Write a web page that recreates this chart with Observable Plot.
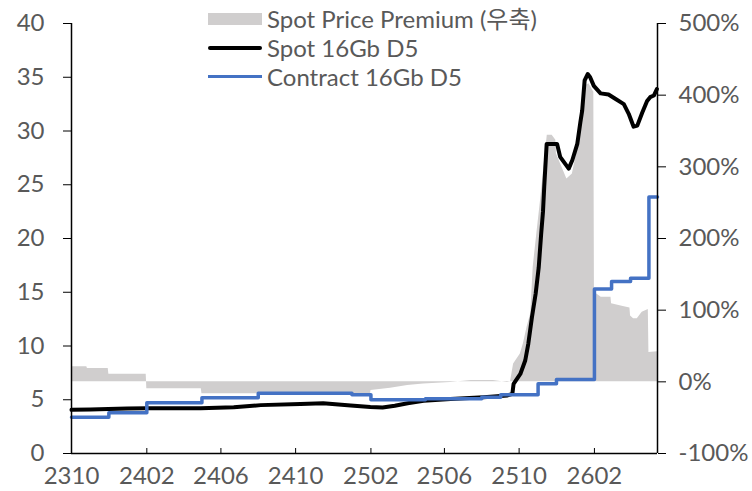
<!DOCTYPE html>
<html><head><meta charset="utf-8">
<script src="https://cdn.jsdelivr.net/npm/d3@7"></script>
<script src="https://cdn.jsdelivr.net/npm/@observablehq/plot@0.6"></script>
<style>
body{margin:0;background:#fff;}
#wrap{position:relative;width:752px;height:491px;font-family:Lato,"Noto Sans CJK KR",sans-serif;}
.legend{position:absolute;left:208px;top:4px;color:#595959;font-size:24px;line-height:1;}
.row{display:flex;align-items:center;height:29px;white-space:nowrap;}
.sw{display:inline-block;width:54px;margin-right:5px;}
</style></head><body><div id="wrap"></div><script>
// ---- data ----
const spotDates = ["2023-10-01","2023-11-01","2023-11-30","2023-12-31","2024-02-01","2024-03-16","2024-04-29","2024-06-22","2024-08-05","2024-10-09","2024-11-15","2024-12-30","2025-01-31","2025-02-20","2025-03-12","2025-04-02","2025-04-28","2025-06-11","2025-08-04","2025-09-12","2025-09-20","2025-09-22","2025-10-03","2025-10-11","2025-10-16","2025-10-22","2025-10-28","2025-11-02","2025-11-06","2025-11-09","2025-11-11","2025-11-15","2025-12-02","2025-12-07","2025-12-21","2025-12-27","2026-01-04","2026-01-09","2026-01-12","2026-01-16","2026-01-21","2026-01-25","2026-01-31","2026-02-11","2026-02-24","2026-03-07","2026-03-21","2026-03-29","2026-04-06","2026-04-12","2026-04-20","2026-04-28","2026-05-03","2026-05-09","2026-05-14"];
const spotValues = [4.06,4.10,4.15,4.18,4.20,4.20,4.22,4.30,4.50,4.60,4.68,4.47,4.32,4.28,4.45,4.68,4.90,5.08,5.24,5.40,5.55,6.48,7.40,8.65,10.2,12.7,14.86,17.3,20.4,22.5,24.8,28.8,28.8,27.6,26.5,27.3,28.8,30.8,31.9,34.7,35.3,35.0,34.2,33.5,33.4,33.0,32.5,31.6,30.4,30.5,31.7,32.8,33.15,33.3,33.9];

const contractDates = ["2023-10-01","2023-12-01","2024-02-01","2024-05-01","2024-08-01","2025-01-01","2025-02-01","2025-05-01","2025-08-01","2025-09-01","2025-11-01","2025-12-01","2026-02-01","2026-03-01","2026-04-01","2026-05-01","2026-05-15"];
const contractValues = [3.38,3.79,4.72,5.18,5.61,5.46,5.00,5.09,5.24,5.46,6.48,6.88,15.3,16.0,16.3,23.85,23.85];

const premiumDates = ["2023-10-01","2023-10-26","2023-10-27","2023-11-30","2023-12-01","2024-01-31","2024-02-01","2024-04-30","2024-05-01","2024-07-31","2024-08-01","2024-10-09","2024-11-15","2024-12-31","2025-01-01","2025-01-31","2025-02-01","2025-03-05","2025-04-02","2025-04-28","2025-06-11","2025-07-15","2025-08-20","2025-09-12","2025-09-17","2025-09-22","2025-10-03","2025-10-08","2025-10-14","2025-10-20","2025-10-24","2025-10-30","2025-11-05","2025-11-10","2025-11-16","2025-11-24","2025-11-30","2025-12-01","2025-12-18","2025-12-27","2026-01-04","2026-01-12","2026-01-17","2026-01-23","2026-01-31","2026-02-01","2026-02-12","2026-02-28","2026-03-01","2026-03-20","2026-03-31","2026-04-01","2026-04-06","2026-04-12","2026-04-20","2026-04-30","2026-05-01","2026-05-15"];
const premiumValues = [21,21,18.5,18.5,10.5,10.5,-9.8,-9.8,-16.7,-16.7,-18,-17.5,-16.5,-18,-19,-20,-12,-9,-5,-3,-1,2,2,-1,0,25,39,53,76,95,160,207,253,295,344,344,337,318,283,290,323,365,413,416,404,125,118,118,109,105,103,92,88,88,97,101,41,42];

const leftTicks = [0,5,10,15,20,25,30,35,40];
const rightTicks = [-100,0,100,200,300,400,500];
const xTickDates = ["2023-10-01","2024-02-01","2024-06-01","2024-10-01","2025-02-01","2025-06-01","2025-10-01","2026-02-01"];
const xDomainDates = ["2023-10-01","2026-05-15"];
const legendLabels = ["Spot Price Premium (우축)","Spot 16Gb D5","Contract 16Gb D5"];

// ---- build ----
const parse = d3.utcParse("%Y-%m-%d");
const spot = spotDates.map((d,i)=>({date:parse(d), v:spotValues[i]}));
const contract = contractDates.map((d,i)=>({date:parse(d), v:contractValues[i]}));
const premium = premiumDates.map((d,i)=>({date:parse(d), p:premiumValues[i]}));
const leftDomain = [0,40], rightDomain = [-100,500];
const toLeft = p => leftDomain[0] + (p - rightDomain[0])/(rightDomain[1]-rightDomain[0])*(leftDomain[1]-leftDomain[0]);
const fromLeft = v => rightDomain[0] + (v - leftDomain[0])/(leftDomain[1]-leftDomain[0])*(rightDomain[1]-rightDomain[0]);
const xDomain = xDomainDates.map(parse);

const chart = Plot.plot({
  width: 752, height: 491,
  marginLeft: 71, marginRight: 95, marginTop: 23, marginBottom: 38,
  style: {fontFamily: "Lato,'Noto Sans CJK KR',sans-serif", fontSize: "24px", background: "white", overflow: "visible"},
  x: {type: "utc", domain: xDomain},
  y: {domain: leftDomain},
  marks: [
    Plot.areaY(premium, {x: "date", y1: d => toLeft(0), y2: d => toLeft(d.p), fill: "#d0cece"}),
    Plot.line(spot, {x: "date", y: "v", stroke: "#000", strokeWidth: 4, strokeLinejoin: "round", strokeLinecap: "round"}),
    Plot.line(contract, {x: "date", y: "v", stroke: "#4472c4", strokeWidth: 3.5, curve: "step-after"}),
    Plot.ruleX(xDomain, {stroke: "#000", strokeWidth: 1.5}),
    Plot.ruleY([leftDomain[0]], {stroke: "#000", strokeWidth: 1.5}),
    Plot.axisY(leftTicks, {anchor: "left", tickSize: 8, tickPadding: 19, stroke: "#000", fill: "#595959", label: null}),
    Plot.axisY(rightTicks.map(toLeft), {anchor: "right", tickSize: 8, tickPadding: 13, stroke: "#000", fill: "#595959", label: null,
      tickFormat: v => `${Math.round(fromLeft(v))}%`}),
    Plot.axisX(xTickDates.map(parse), {anchor: "bottom", tickSize: 5, dy: -5, tickPadding: 13, stroke: "#000", fill: "#595959", label: null,
      tickFormat: d3.utcFormat("%y%m")})
  ]
});
const wrap = document.getElementById("wrap");
wrap.appendChild(chart);

const swatches = [
  "height:12px;background:#d0cece;",
  "height:4px;background:#000;border-radius:2px;",
  "height:3.5px;background:#4472c4;"
];
const legend = document.createElement("div");
legend.className = "legend";
legendLabels.forEach((lab,i)=>{
  const row = document.createElement("div"); row.className = "row";
  const sw = document.createElement("span"); sw.className = "sw"; sw.style.cssText = swatches[i];
  row.appendChild(sw); row.appendChild(document.createTextNode(lab));
  legend.appendChild(row);
});
wrap.appendChild(legend);
</script></body></html>
